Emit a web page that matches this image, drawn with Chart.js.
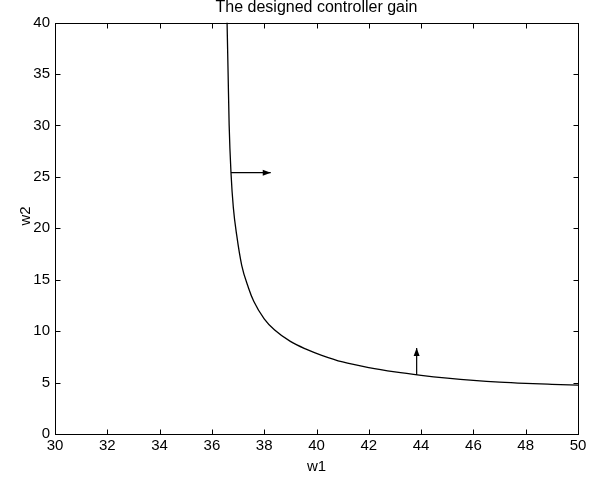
<!DOCTYPE html>
<html>
<head>
<meta charset="utf-8">
<script src="https://cdn.jsdelivr.net/npm/chart.js@4/dist/chart.umd.min.js"></script>
<style>
  html, body { margin: 0; padding: 0; background: #fff; }
  #wrap { width: 610px; height: 478px; position: relative; }
</style>
</head>
<body>
<div id="wrap"><canvas id="gainChart"></canvas></div>
<script>
// --- data ---
const w1Values = [36.58, 36.62, 36.66, 36.73, 36.82, 36.95, 37.14, 37.40, 37.60, 38.00, 38.40, 39.00, 39.60, 40.20, 41.00, 42.00, 43.00, 44.00, 45.00, 46.00, 47.00, 48.00, 49.00, 50.00];
const w2Values = [40.00, 35.00, 30.00, 25.40, 22.00, 19.30, 16.40, 14.20, 12.90, 11.20, 10.10, 9.00, 8.25, 7.65, 7.00, 6.45, 6.03, 5.70, 5.43, 5.21, 5.04, 4.92, 4.83, 4.75];

// two arrows (start -> tip)
const arrowRightX = [36.73, 38.25];
const arrowRightY = [25.4, 25.4];
const arrowUpX = [43.83, 43.83];
const arrowUpY = [5.74, 8.36];

const xTicks = [30, 32, 34, 36, 38, 40, 42, 44, 46, 48, 50];
const yTicks = [0, 5, 10, 15, 20, 25, 30, 35, 40];

const titleText = 'The designed controller gain';
const yLabel = 'w2';

const toPoints = (xs, ys) => xs.map((x, i) => ({ x: x, y: ys[i] }));
const fontFamily = '"Liberation Sans", Arial, sans-serif';

// frame + inward tick marks, MATLAB style
const boxPlugin = {
    id: 'boxTicks',
    afterDraw(chart) {
        const ctx = chart.ctx;
        const a = chart.chartArea;
        const L = Math.round(a.left) + 0.5, R = Math.round(a.right) + 0.5;
        const T = Math.round(a.top) + 0.5, B = Math.round(a.bottom) + 0.5;
        const len = 5;
        ctx.save();
        ctx.strokeStyle = '#000';
        ctx.lineWidth = 1;
        ctx.strokeRect(L, T, R - L, B - T);
        ctx.beginPath();
        xTicks.forEach(v => {
            const px = Math.round(chart.scales.x.getPixelForValue(v)) + 0.5;
            ctx.moveTo(px, B); ctx.lineTo(px, B - len);
            ctx.moveTo(px, T); ctx.lineTo(px, T + len);
        });
        yTicks.forEach(v => {
            const py = Math.round(chart.scales.y.getPixelForValue(v)) + 0.5;
            ctx.moveTo(L, py); ctx.lineTo(L + len, py);
            ctx.moveTo(R, py); ctx.lineTo(R - len, py);
        });
        ctx.stroke();

        // title centred over the axes box, and the y label (MATLAB puts it a bit high)
        ctx.fillStyle = '#000';
        ctx.textAlign = 'center';
        ctx.textBaseline = 'middle';
        ctx.font = '16px ' + fontFamily;
        ctx.fillText(titleText, (a.left + a.right) / 2, 8);
        ctx.font = '15px ' + fontFamily;
        ctx.translate(26, 216);
        ctx.rotate(-Math.PI / 2);
        ctx.fillText(yLabel, 0, 0);
        ctx.restore();
    }
};

// filled arrow heads at the last point of datasets flagged with arrow:true
const arrowPlugin = {
    id: 'arrowHeads',
    afterDatasetsDraw(chart) {
        const ctx = chart.ctx;
        chart.data.datasets.forEach((ds, i) => {
            if (!ds.arrow) return;
            const pts = chart.getDatasetMeta(i).data;
            const p0 = pts[pts.length - 2], p1 = pts[pts.length - 1];
            const ang = Math.atan2(p1.y - p0.y, p1.x - p0.x);
            const hl = 8, hw = 3;
            ctx.save();
            ctx.translate(p1.x, p1.y);
            ctx.rotate(ang);
            ctx.fillStyle = '#000';
            ctx.beginPath();
            ctx.moveTo(0, 0);
            ctx.lineTo(-hl, -hw);
            ctx.lineTo(-hl, hw);
            ctx.closePath();
            ctx.fill();
            ctx.restore();
        });
    }
};

const tickFont = { family: fontFamily, size: 15 };

new Chart(document.getElementById('gainChart'), {
    type: 'line',
    data: {
        datasets: [
            {
                data: toPoints(w1Values, w2Values),
                borderColor: '#000',
                borderWidth: 1.3,
                pointRadius: 0,
                cubicInterpolationMode: 'monotone',
                fill: false
            },
            {
                data: toPoints(arrowRightX, arrowRightY),
                borderColor: '#000',
                borderWidth: 1.2,
                pointRadius: 0,
                arrow: true
            },
            {
                data: toPoints(arrowUpX, arrowUpY),
                borderColor: '#000',
                borderWidth: 1.2,
                pointRadius: 0,
                arrow: true
            }
        ]
    },
    options: {
        responsive: true,
        maintainAspectRatio: false,
        animation: false,
        layout: { padding: { left: 0, right: 32, top: 22.5, bottom: 0 } },
        plugins: {
            legend: { display: false },
            tooltip: { enabled: false },
            title: { display: false }
        },
        scales: {
            x: {
                type: 'linear',
                min: 30,
                max: 50,
                afterFit(scale) { scale.height = 44; },
                afterBuildTicks(scale) { scale.ticks = xTicks.map(v => ({ value: v })); },
                grid: { display: false, drawTicks: false },
                border: { display: false },
                ticks: { color: '#000', font: tickFont, padding: 3, maxRotation: 0, autoSkip: false },
                title: { display: true, text: 'w1', color: '#000', font: tickFont, padding: { top: 0, bottom: 2 } }
            },
            y: {
                type: 'linear',
                min: 0,
                max: 40,
                afterFit(scale) { scale.width = 55; },
                afterBuildTicks(scale) { scale.ticks = yTicks.map(v => ({ value: v })); },
                grid: { display: false, drawTicks: false },
                border: { display: false },
                ticks: { color: '#000', font: tickFont, padding: 5, autoSkip: false }
            }
        }
    },
    plugins: [boxPlugin, arrowPlugin]
});
</script>
</body>
</html>
